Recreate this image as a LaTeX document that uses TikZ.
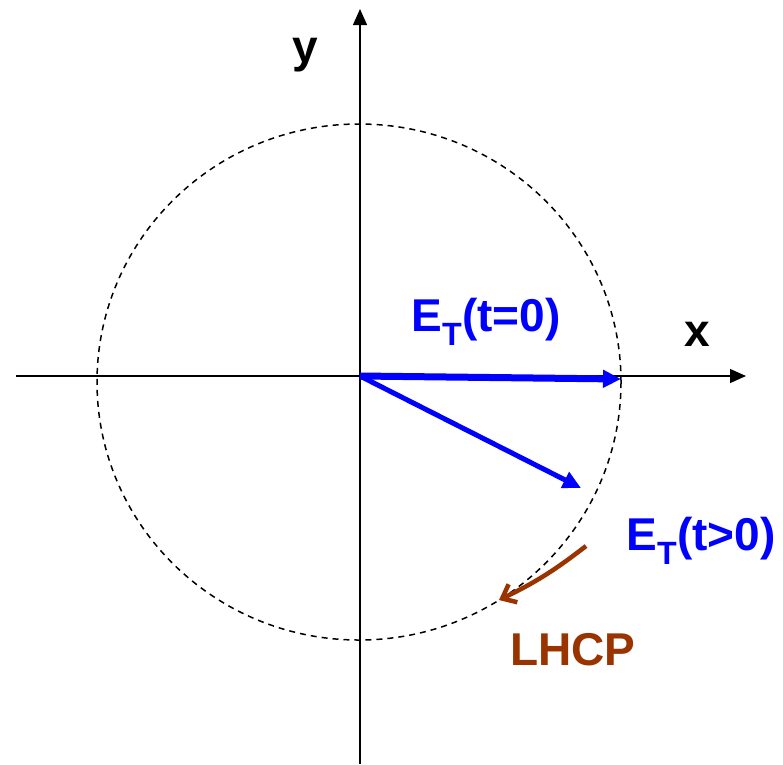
\documentclass[tikz,border=0pt]{standalone}
\usepackage{fontspec}
\setmainfont{Liberation Sans}
\usetikzlibrary{arrows.meta, positioning}
\definecolor{bleuVecteur}{RGB}{0, 0, 255}
\definecolor{brunRot}{RGB}{153, 51, 0}

\begin{document}
\begin{tikzpicture}[x=1pt, y=-1pt,
  axe/.style={-{Triangle[length=16pt, width=14pt]}, line width=1.3pt},
  vec/.style={-{Triangle[length=18pt, width=17pt]}, draw=bleuVecteur},
  lbl/.style={font=\fontsize{46}{54}\selectfont\bfseries},
  cercle/.style={line width=1.5pt, dash pattern=on 6pt off 5pt},
]
\useasboundingbox (0,0) rectangle (783,764);
\coordinate (O) at (360,376);
\coordinate (xg) at (16,376);
\coordinate (xd) at (746,376);
\coordinate (yb) at (360,764);
\coordinate (yh) at (360,9);
\coordinate (e0) at (621,379);
\coordinate (e1) at (581,488);
\coordinate (r0) at (586,546);
\coordinate (r1) at (499,600);
% axes et cercle
\draw[cercle] (359,382) ellipse[x radius=262, y radius=258];
\draw[axe] (xg) -- (xd);
\draw[axe] (yb) -- (yh);
\node[lbl] (lx) at (697,334) {x};
\node[lbl] (ly) at (305,55) {y};
% champ E
\draw[vec, line width=7pt] (O) -- (e0);
\draw[vec, line width=5pt] (O) -- (e1);
\node[lbl, text=bleuVecteur] (lt0) at (486,322) {E\textsubscript{T}(t=0)};
\node[lbl, text=bleuVecteur] (lt1) at (701,541) {E\textsubscript{T}(t>0)};
% sens de rotation
\draw[-{Straight Barb[length=12pt, width=20pt]}, draw=brunRot, line width=4.5pt]
  (r0) to[bend left=6] (r1);
\node[lbl, text=brunRot] (lh) at (573,650) {LHCP};
\end{tikzpicture}
\end{document}
